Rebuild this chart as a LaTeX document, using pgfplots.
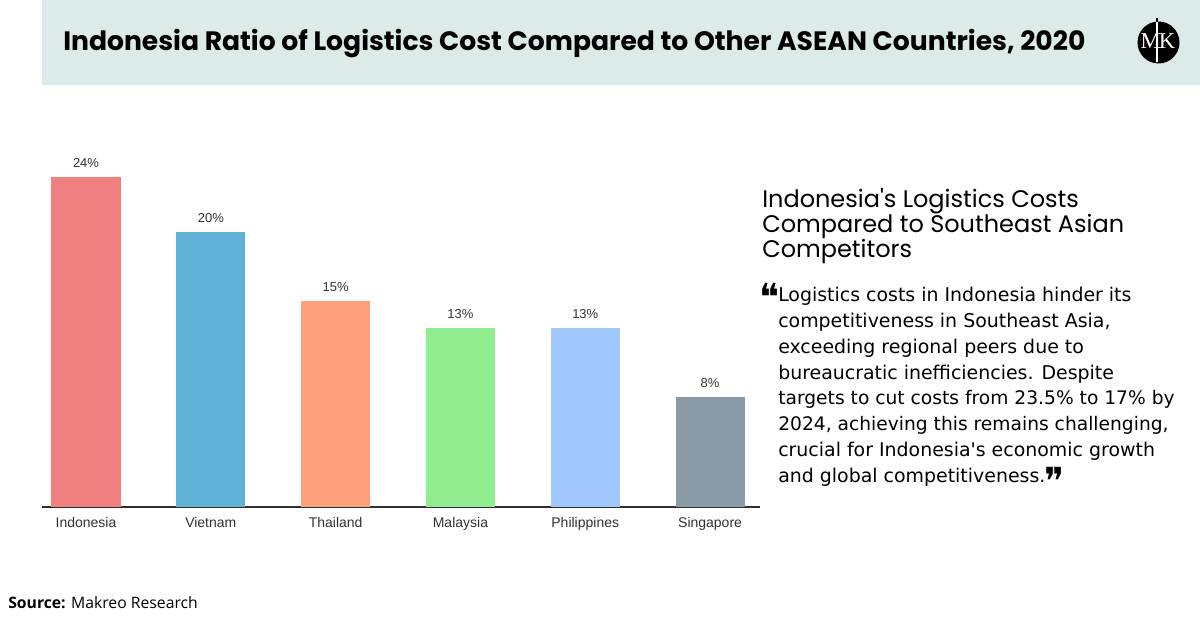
\documentclass[border=0pt]{standalone}
\usepackage{pgfplots}
\pgfplotsset{compat=1.18}
\usepackage{fontspec}
\setmainfont{Open Sans}
\newfontfamily\poppins{Poppins}
\newfontfamily\chartfont{Liberation Sans}
\newfontfamily\serifmk{Liberation Serif}
\newfontfamily\djv{DejaVu Sans}
\definecolor{hdr}{HTML}{DCEAEA}
\definecolor{cIdn}{HTML}{F08080}
\definecolor{cVnm}{HTML}{61B2D8}
\definecolor{cTha}{HTML}{FFA07A}
\definecolor{cMys}{HTML}{90EE90}
\definecolor{cPhl}{HTML}{A0C8FF}
\definecolor{cSgp}{HTML}{8A9BA8}
\definecolor{txt}{HTML}{333333}
\newcommand{\fs}[1]{\fontsize{#1}{#1}\selectfont}
\begin{document}
\begin{tikzpicture}[x=0.75pt,y=0.75pt]
\useasboundingbox (0,0) rectangle (1200,628);
\fill[white] (0,0) rectangle (1200,628);
% header band
\fill[hdr] (42,628) rectangle (1200,543);
\node[anchor=base west,inner sep=0pt] at (63,577) {\resizebox{766.5pt}{!}{\poppins\bfseries Indonesia Ratio of Logistics Cost Compared to Other ASEAN Countries, 2020}};
% logo
\fill[black] (1158.5,585.5) circle (21);
\node[white,inner sep=0pt] at (1158,587) {\serifmk\fs{17pt}M\kern-1.5pt K};
\draw[white,line width=0.9pt] (1157,606) -- (1157,566);
\draw[black,line width=0.9pt] (1157,606) -- (1157,610);
% chart
\begin{axis}[
  at={(31.5pt,90.75pt)}, anchor=south west,
  scale only axis, width=538.5pt, height=275.25pt,
  ymin=0, ymax=26.7, xmin=-0.3526, xmax=5.40,
  axis x line=bottom, axis y line=none,
  x axis line style={-, line width=1.1pt, color=txt!90!black},
  xtick={0,1,2,3,4,5},
  xticklabels={Indonesia,Vietnam,Thailand,Malaysia,Philippines,Singapore},
  major tick length=0pt,
  xticklabel style={font=\chartfont\fs{10.5pt}, text=txt, yshift=-4.5pt},
  ybar, bar width=0.553, bar shift=0pt,
  /pgf/number format/assume math mode=true,
  nodes near coords={\pgfmathprintnumber{\pgfplotspointmeta}\%},
  every node near coord/.append style={font=\chartfont\fs{9.75pt}, text=txt, yshift=3.5pt},
  clip=false,
]
\addplot[fill=cIdn, draw=none] coordinates {(0,24)};
\addplot[fill=cVnm, draw=none] coordinates {(1,20)};
\addplot[fill=cTha, draw=none] coordinates {(2,15)};
\addplot[fill=cMys, draw=none] coordinates {(3,13)};
\addplot[fill=cPhl, draw=none] coordinates {(4,13)};
\addplot[fill=cSgp, draw=none] coordinates {(5,8)};
\end{axis}
% right heading
\begin{scope}[every node/.style={anchor=base west,inner sep=0pt}]
\node at (762,420) {\poppins\fs{18pt}Indonesia's Logistics Costs};
\node at (762,395) {\poppins\fs{18pt}Compared to Southeast Asian};
\node at (762,370) {\poppins\fs{18pt}Competitors};
\node at (759,317) {\djv\fs{28pt}\char"275D};
\node at (778,326) {\djv\fs{14.2pt}Logistics costs in Indonesia hinder its};
\node at (778,300) {\djv\fs{14.2pt}competitiveness in Southeast Asia,};
\node at (778,274) {\djv\fs{14.2pt}exceeding regional peers due to};
\node at (778,248) {\djv\fs{14.2pt}bureaucratic inefficiencies. Despite};
\node at (778,223) {\djv\fs{14pt}targets to cut costs from 23.5\% to 17\% by};
\node at (778,197) {\djv\fs{14pt}2024, achieving this remains challenging,};
\node at (778,171) {\djv\fs{14.2pt}crucial for Indonesia's economic growth};
\node (last) at (778,145) {\djv\fs{14.2pt}and global competitiveness.};
\node at ([xshift=-1pt,yshift=-9pt]last.base east) {\djv\fs{28pt}\char"275E};
% source
\node at (8,19) {\fs{11.8pt}\textbf{Source:} Makreo Research};
\end{scope}
\end{tikzpicture}
\end{document}
